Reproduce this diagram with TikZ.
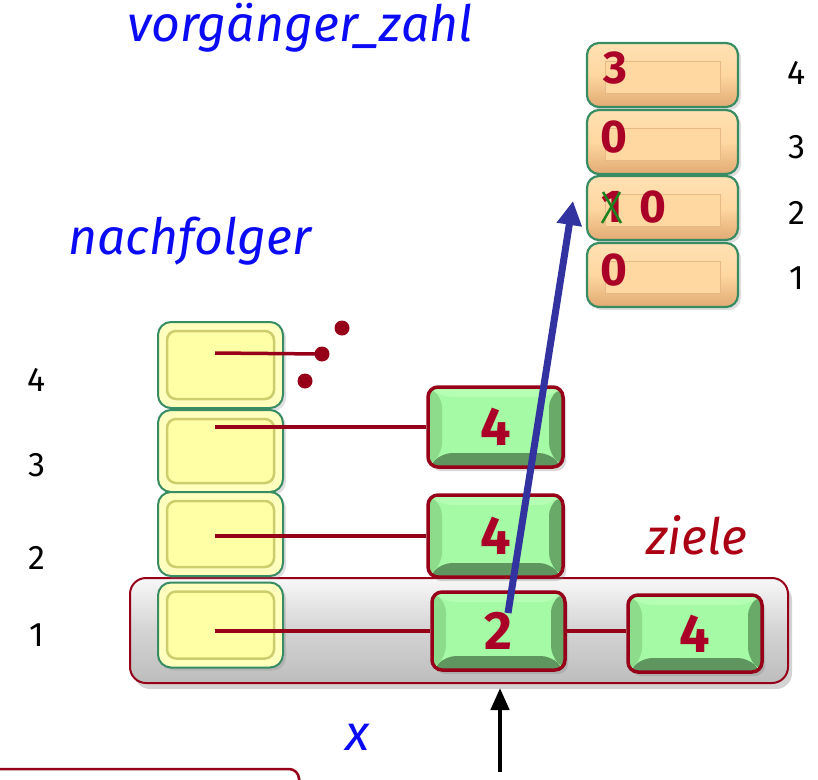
\documentclass[tikz,border=0pt]{standalone}
\usepackage{fontspec}
\setmainfont{Fira Sans}
\usetikzlibrary{shadows,calc,arrows.meta}
\definecolor{gface}{RGB}{165,250,165}
\definecolor{gtop}{RGB}{180,255,180}
\definecolor{gleft}{RGB}{140,220,140}
\definecolor{gright}{RGB}{105,170,105}
\definecolor{gbot}{RGB}{95,150,95}
\definecolor{redb}{RGB}{150,0,25}
\definecolor{digred}{RGB}{170,0,40}
\definecolor{yface}{RGB}{255,255,165}
\definecolor{yrim}{RGB}{255,255,190}
\definecolor{yedge}{RGB}{205,205,110}
\definecolor{gborder}{RGB}{55,140,100}
\definecolor{oface}{RGB}{255,215,160}
\definecolor{otop}{RGB}{255,225,180}
\definecolor{obot}{RGB}{225,170,115}
\definecolor{oinner}{RGB}{230,185,135}
\definecolor{arrblue}{RGB}{50,50,160}
\definecolor{txtblue}{RGB}{10,10,245}
\definecolor{xgreen}{RGB}{30,130,30}
\tikzset{
  greenbox/.style={draw=redb, line width=3.5pt, rounded corners=10pt, fill=gface,
    drop shadow={opacity=0.3, shadow xshift=3pt, shadow yshift=-4pt},
    inner sep=0pt, font=\bfseries\fontsize{54}{54}\selectfont, text=digred,
    path picture={
      \fill[gbot] (path picture bounding box.south west) -- (path picture bounding box.south east)
        -- ([xshift=-14pt,yshift=14pt]path picture bounding box.south east) -- ([xshift=14pt,yshift=14pt]path picture bounding box.south west) -- cycle;
      \fill[gright] (path picture bounding box.south east) -- (path picture bounding box.north east)
        -- ([xshift=-14pt,yshift=-10pt]path picture bounding box.north east) -- ([xshift=-14pt,yshift=14pt]path picture bounding box.south east) -- cycle;
      \fill[gleft] (path picture bounding box.south west) -- (path picture bounding box.north west)
        -- ([xshift=14pt,yshift=-10pt]path picture bounding box.north west) -- ([xshift=14pt,yshift=14pt]path picture bounding box.south west) -- cycle;
      \fill[gtop] (path picture bounding box.north west) -- (path picture bounding box.north east)
        -- ([xshift=-14pt,yshift=-10pt]path picture bounding box.north east) -- ([xshift=14pt,yshift=-10pt]path picture bounding box.north west) -- cycle;
    }},
  yellowbox/.style={draw=gborder, line width=2pt, rounded corners=13pt, fill=yrim,
    drop shadow={opacity=0.25, shadow xshift=3pt, shadow yshift=-3pt},
    minimum width=125pt, inner sep=0pt,
    path picture={
      \draw[yedge, line width=2.5pt, fill=yface, rounded corners=9pt]
        ([xshift=9pt,yshift=-9pt]path picture bounding box.north west) rectangle ([xshift=-9pt,yshift=9pt]path picture bounding box.south east);
    }},
  orangebox/.style={draw=gborder, line width=2.2pt, rounded corners=12pt,
    top color=otop, bottom color=obot, middle color=oface,
    drop shadow={opacity=0.25, shadow xshift=3pt, shadow yshift=-3pt},
    minimum width=151pt, minimum height=64pt, inner sep=0pt,
    path picture={
      \draw[oinner, line width=0.8pt, fill=oface, sharp corners]
        ([xshift=18pt,yshift=-18pt]path picture bounding box.north west) rectangle ([xshift=-18pt,yshift=14pt]path picture bounding box.south east);
    }},
  graybar/.style={draw=redb, line width=2pt, rounded corners=16pt,
    top color=white!97!black, bottom color=black!26, middle color=black!17,
    drop shadow={opacity=0.35, shadow xshift=4pt, shadow yshift=-6pt},
    minimum width=658pt, minimum height=105pt, inner sep=0pt},
  link/.style={draw=redb, line width=3.5pt},
  dot/.style={circle, fill=redb, minimum size=15pt, inner sep=0pt},
  odigit/.style={font=\bfseries\fontsize{46}{46}\selectfont, text=digred, inner sep=0pt},
  numlabel/.style={font=\fontsize{34}{34}\selectfont, text=black, inner sep=0pt},
  title/.style={font=\itshape\fontsize{50}{50}\selectfont, text=txtblue, inner sep=0pt},
}
\begin{document}
\begin{tikzpicture}[x=1pt,y=-1pt]
\useasboundingbox (0,0) rectangle (818,779);

% titles
\node[title] (tvz) at (300,28) {vorgänger\_zahl};
\node[title] (tnf) at (190,241) {nachfolger};
\node[title, text=redb!80!red] (tziele) at (697,535) {ziele};
\node[title] (tx) at (357,737) {x};

% gray bar
\node[graybar] (bar) at (459,630.5) {};

% yellow boxes
\node[yellowbox, minimum height=86pt] (y4) at (220.5,365) {};
\node[yellowbox, minimum height=82pt] (y3) at (220.5,451) {};
\node[yellowbox, minimum height=84pt] (y2) at (220.5,534) {};
\node[yellowbox, minimum height=85pt] (y1) at (220.5,625) {};

% green boxes
\node[greenbox, minimum width=135pt, minimum height=80pt] (g3) at (495.5,427) {4};
\node[greenbox, minimum width=135pt, minimum height=82pt] (g2) at (495.5,536) {4};
\node[greenbox, minimum width=133pt, minimum height=78pt] (g1) at (498.5,631) {2};
\node[greenbox, minimum width=134pt, minimum height=77pt] (g1b) at (695,633.5) {4};

% links
\coordinate (s4) at (215,353);
\coordinate (s3) at (215,427);
\coordinate (s2) at (215,536);
\coordinate (s1) at (215,631);
\node[dot] (d1) at (342,328) {};
\node[dot] (d2) at (322,354) {};
\node[dot] (d3) at (305,381) {};
\draw[link] (s4) -- (d2.center);
\draw[link] (s3) -- (g3.west);
\draw[link] (s2) -- (g2.west);
\draw[link] (s1) -- (g1.west);
\draw[link] (g1.east) -- (g1.east -| g1b.west);

% orange boxes
\node[orangebox] (o4) at (662.5,75) {};
\node[orangebox] (o3) at (662.5,142) {};
\node[orangebox] (o2) at (662.5,208) {};
\node[orangebox] (o1) at (662.5,275) {};
\node[odigit] (v4) at (615,68) {3};
\node[odigit] (v3) at (614,137) {0};
\node[odigit] (v2a) at (612,207) {1};
\node[odigit] (v2b) at (653,207) {0};
\node[odigit] (v1) at (614,270) {0};
\draw[xgreen, line width=2.5pt] ([xshift=-9pt,yshift=15pt]v2a.center) -- ([xshift=9pt,yshift=-16pt]v2a.center);
\draw[xgreen, line width=2.5pt] ([xshift=-10pt,yshift=-16pt]v2a.center) -- ([xshift=8pt,yshift=15pt]v2a.center);

% labels
\node[numlabel] (r4) at (797,73) {4};
\node[numlabel] (r3) at (797,147) {3};
\node[numlabel] (r2) at (797,213) {2};
\node[numlabel] (r1) at (797,278) {1};
\node[numlabel] (l4) at (37,380) {4};
\node[numlabel] (l3) at (37,465) {3};
\node[numlabel] (l2) at (37,558) {2};
\node[numlabel] (l1) at (37,635) {1};

% arrows
\coordinate (bs) at (508,613);
\coordinate (be) at (573,201);
\draw[arrblue, line width=7pt, -{Triangle[length=24pt,width=24pt]}] (bs) -- (be);
\coordinate (ks) at (500,772);
\coordinate (ke) at (500,688);
\draw[black, line width=4.5pt, -{Triangle[length=22pt,width=18pt]}] (ks) -- (ke);

% bottom box (partially visible)
\node[draw=redb, line width=2.5pt, rounded corners=10pt, fill=white,
  drop shadow={opacity=0.3, shadow xshift=3pt, shadow yshift=-3pt},
  minimum width=320pt, minimum height=60pt, inner sep=0pt] (bot) at (139,799) {};
\end{tikzpicture}
\end{document}
